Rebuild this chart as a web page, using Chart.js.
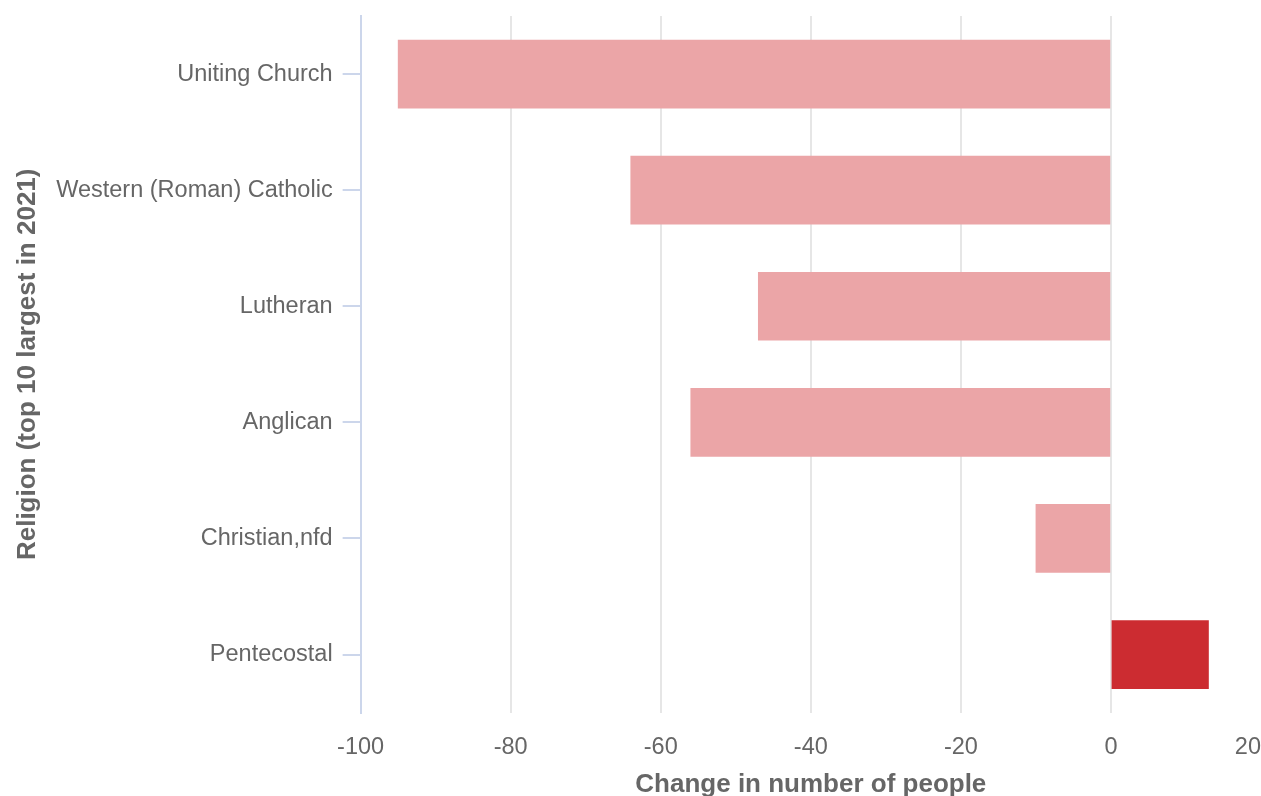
<!DOCTYPE html>
<html>
  <head>
    <meta charset="utf-8">
    <title>Change in number of people by religion</title>
    <style>
      html, body { margin: 0; padding: 0; background: #ffffff; }
      #wrap { width: 1261px; height: 796px; position: relative; }
    </style>
  </head>
  <body>
    <div id="wrap">
      <canvas id="myChart"></canvas>
    </div>
    <script src="https://cdn.jsdelivr.net/npm/chart.js@4.4.1/dist/chart.umd.min.js"></script>
    <script>
      // data
      var religions = ['Uniting Church', 'Western (Roman) Catholic', 'Lutheran', 'Anglican', 'Christian,nfd', 'Pentecostal'];
      var changes = [-95, -64, -47, -56, -10, 13];
      var xTicks = [-100, -80, -60, -40, -20, 0, 20];

      var pink = '#eba5a7';
      var red = '#cc2c31';
      var textGrey = '#666666';
      var fontFam = '"Liberation Sans", Arial, sans-serif';

      var barColors = [];
      for (var i = 0; i < changes.length; i++) {
        barColors.push(changes[i] < 0 ? pink : red);
      }

      function noPad(s) {
        s.paddingTop = 0;
        s.paddingBottom = 0;
        s.paddingLeft = 0;
        s.paddingRight = 0;
      }

      var ctx = document.getElementById('myChart');
      var myChart = new Chart(ctx, {
        type: 'bar',
        data: {
          labels: religions,
          datasets: [{
            label: 'Change',
            data: changes,
            backgroundColor: barColors,
            borderWidth: 0,
            barThickness: 68
          }]
        },
        options: {
          indexAxis: 'y',
          responsive: true,
          maintainAspectRatio: false,
          animation: false,
          layout: { padding: { top: 16, left: 12, right: 0, bottom: -4 } },
          plugins: {
            legend: { display: false },
            tooltip: { enabled: false }
          },
          scales: {
            x: {
              type: 'linear',
              min: xTicks[0],
              max: xTicks[xTicks.length - 1],
              afterBuildTicks: function (s) {
                s.ticks = xTicks.map(function (v) { return { value: v }; });
              },
              afterFit: function (s) {
                noPad(s);
                s.height = s.height - 22;
              },
              grid: {
                color: function (c) {
                  return c.tick && c.tick.value === 20 ? 'rgba(0,0,0,0)' : '#e6e6e6';
                },
                lineWidth: 2,
                drawTicks: false
              },
              border: { display: false },
              ticks: {
                color: textGrey,
                padding: 21,
                maxRotation: 0,
                font: { family: fontFam, size: 23.5 },
                callback: function (v) {
                  // last label sits inside the edge
                  return v === 20 ? '20    ' : String(v);
                }
              },
              title: {
                display: true,
                text: 'Change in number of people',
                color: textGrey,
                padding: { top: 8, bottom: 0 },
                font: { family: fontFam, size: 26, weight: 'bold' }
              }
            },
            y: {
              afterFit: noPad,
              grid: {
                offset: false,
                drawOnChartArea: false,
                color: '#ccd6eb',
                tickColor: '#ccd6eb',
                tickLength: 18,
                lineWidth: 2
              },
              border: { display: true, color: '#ccd6eb', width: 2 },
              ticks: {
                color: textGrey,
                padding: 10,
                font: { family: fontFam, size: 23.5 }
              },
              title: {
                display: true,
                text: 'Religion (top 10 largest in 2021)',
                color: textGrey,
                padding: { top: 0, bottom: 3 },
                font: { family: fontFam, size: 26, weight: 'bold' }
              }
            }
          }
        }
      });
    </script>
  </body>
</html>
